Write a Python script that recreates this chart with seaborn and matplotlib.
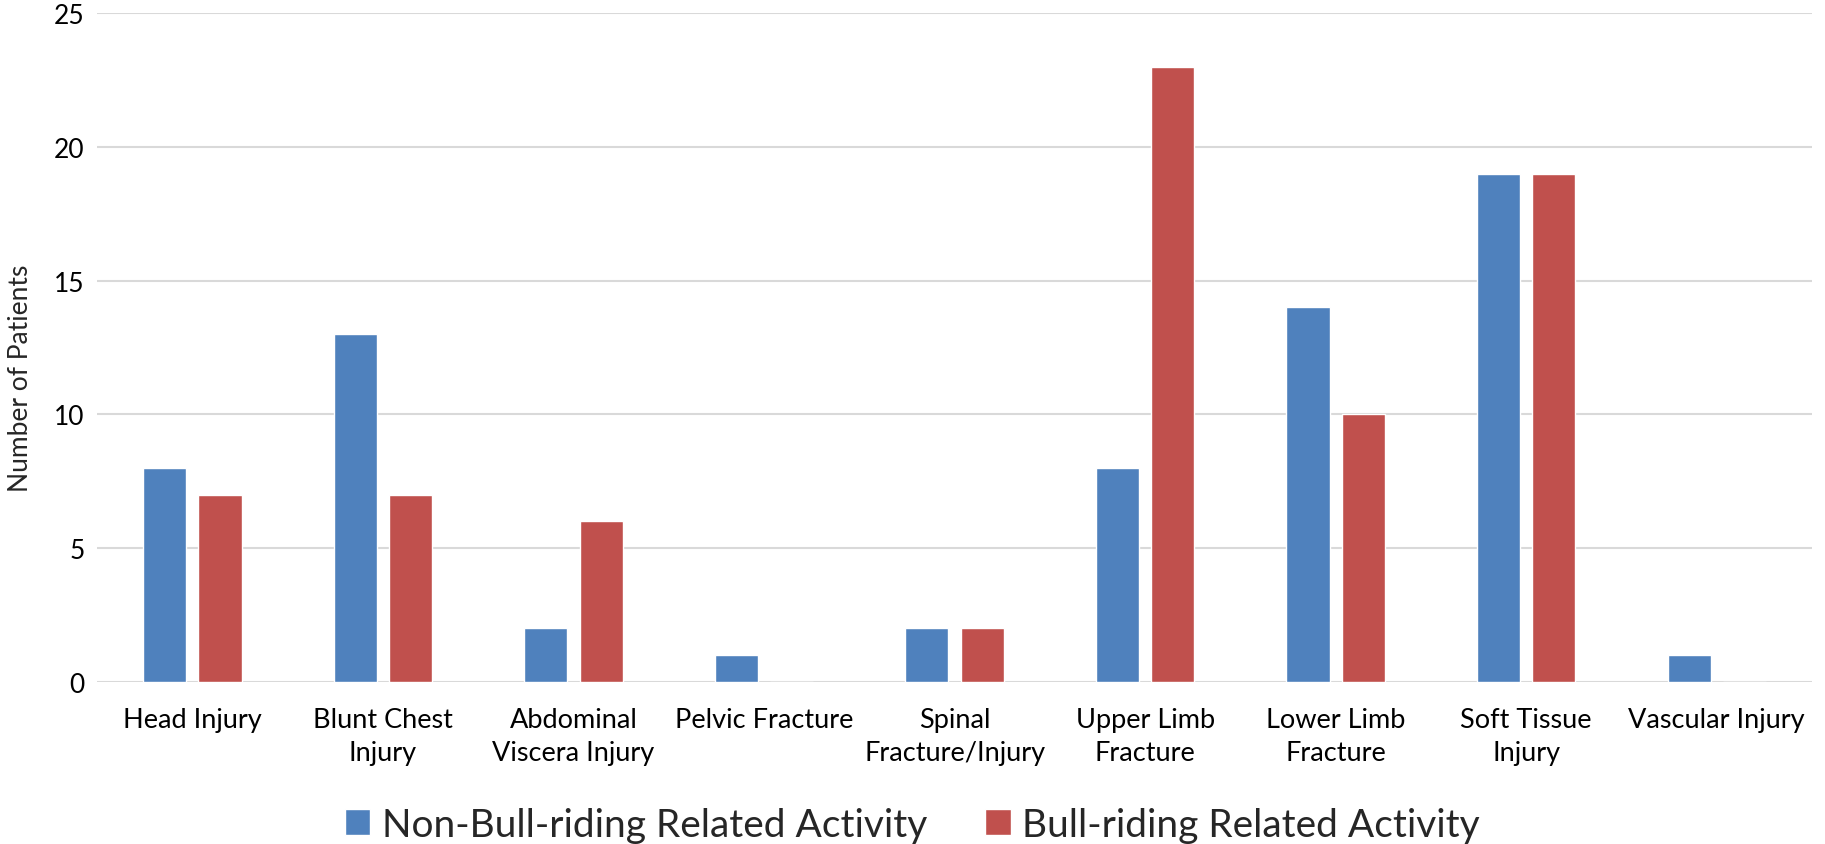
import pandas as pd
import seaborn as sns
import matplotlib.pyplot as plt

# injury categories and patient counts
categories = ["Head Injury", "Blunt Chest\nInjury", "Abdominal\nViscera Injury",
              "Pelvic Fracture", "Spinal\nFracture/Injury", "Upper Limb\nFracture",
              "Lower Limb\nFracture", "Soft Tissue\nInjury", "Vascular Injury"]
non_bull = [8, 13, 2, 1, 2, 8, 14, 19, 1]
bull = [7, 7, 6, 0, 2, 23, 10, 19, 0]
series = ["Non-Bull-riding Related Activity", "Bull-riding Related Activity"]
y_ticks = [0, 5, 10, 15, 20, 25]

df = pd.DataFrame({
    "Injury": categories * 2,
    "Patients": non_bull + bull,
    "Group": [series[0]] * len(categories) + [series[1]] * len(categories),
})

sns.set_style("white")
plt.rcParams['font.family'] = ['Lato', 'DejaVu Sans']

fig = plt.figure(figsize=(18.25, 8.45), dpi=100)
ax = fig.add_axes([0.0532, 0.1917, 0.9397, 0.7917])

sns.barplot(data=df, x="Injury", y="Patients", hue="Group",
            palette=["#4F81BD", "#C0504D"], width=0.58, gap=0.22,
            saturation=1, ax=ax)

ax.set_ylim(0, 25)
ax.set_yticks(y_ticks)
ax.set_xlim(-0.5, len(categories) - 0.5)
ax.grid(axis='y', color='#D9D9D9', linewidth=1.5)
ax.set_axisbelow(True)
for s in ax.spines.values():
    s.set_visible(False)
ax.tick_params(axis='both', length=0, colors='black')
ax.tick_params(axis='y', pad=9, labelsize=19)
ax.tick_params(axis='x', pad=18, labelsize=19.5)
for t in ax.get_xticklabels():
    t.set_linespacing(1.42)
ax.set_xlabel("")
ax.set_ylabel("Number of Patients", fontsize=19)
ax.yaxis.set_label_coords(-0.0375, 0.455)

ax.get_legend().remove()
handles, labels = ax.get_legend_handles_labels()
fig.legend(handles, labels, loc='lower center', bbox_to_anchor=(0.5, -0.04),
           ncol=2, frameon=False, fontsize=28, handlelength=0.65,
           handleheight=0.65, handletextpad=0.3, columnspacing=1.5)

fig.savefig("out.png", dpi=100)
